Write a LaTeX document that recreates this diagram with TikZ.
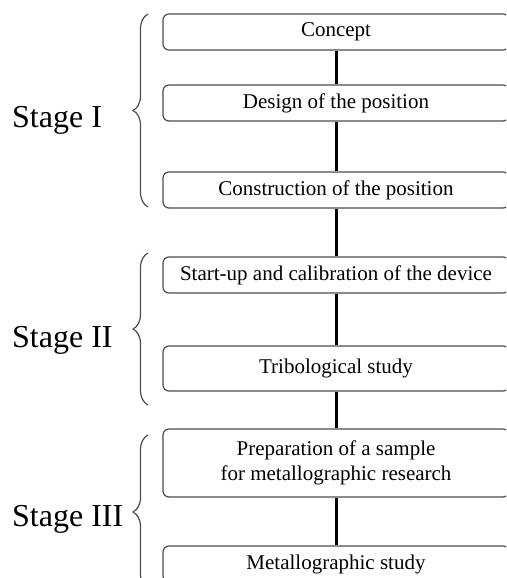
\documentclass[tikz,border=0pt]{standalone}
\usepackage{fontspec}
\setmainfont{Liberation Serif}
\usepackage{tikz}
\usetikzlibrary{decorations.pathreplacing}

\definecolor{edgegray}{HTML}{4D4D4D}

\begin{document}
\begin{tikzpicture}[x=1pt, y=-1pt,
        stepbox/.style={draw=edgegray, line width=1.2pt, rounded corners=6pt,
            minimum width=346pt, minimum height=36pt, inner sep=0pt,
            font=\fontsize{21}{25}\selectfont, align=center},
        link/.style={line width=3pt, black},
        stagebrace/.style={decorate, decoration={brace, amplitude=15pt},
            draw=edgegray, line width=1.2pt},
        stagelabel/.style={anchor=base west, inner sep=0pt,
            font=\fontsize{32}{38}\selectfont}]

                \useasboundingbox (0,0) rectangle (506,578);
                \clip (0,0) rectangle (506,578);

                % Nodes
                \node at (336,32) (concept) [stepbox] {Concept};
                \node at (336,103) (design) [stepbox] {Design of the position};
                \node at (336,190) (construction) [stepbox] {Construction of the position};
                \node at (336,275) (startup) [stepbox] {Start-up and calibration of the device};
                \node at (336,368.5) (tribo) [stepbox, minimum height=45pt] {Tribological study};
                \node at (336,463) (prep) [stepbox, minimum height=68pt] {Preparation of a sample\\for metallographic research};
                \node at (336,564) (metallo) [stepbox] {Metallographic study};

                % Arrows
                \draw[link] (concept) -- (design);
                \draw[link] (design) -- (construction);
                \draw[link] (construction) -- (startup);
                \draw[link] (startup) -- (tribo);
                \draw[link] (tribo) -- (prep);
                \draw[link] (prep) -- (metallo);

                % Stages with braces
                \draw[stagebrace] (148,207) -- (148,14);
                \draw[stagebrace] (148,405) -- (148,253);
                \draw[stagebrace] (148,589) -- (148,435);
                \node at (12,127) (stageone) [stagelabel] {Stage I};
                \node at (12,347) (stagetwo) [stagelabel] {Stage II};
                \node at (12,526) (stagethree) [stagelabel] {Stage III};

            \end{tikzpicture}
\end{document}
